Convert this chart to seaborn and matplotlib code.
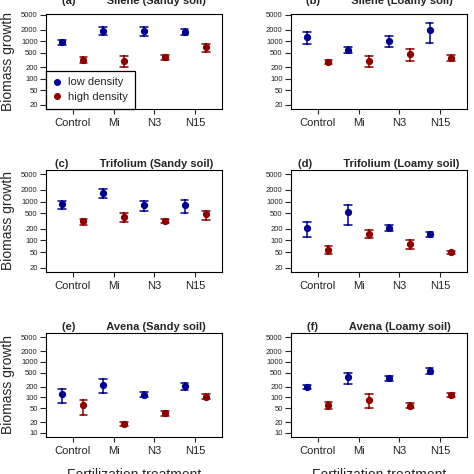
import numpy as np
import pandas as pd
import matplotlib
matplotlib.use('Agg')
import matplotlib.pyplot as plt
from matplotlib.lines import Line2D
from matplotlib.ticker import NullLocator
import seaborn as sns

# Treatments and densities
treatments = ['Control', 'Mi', 'N3', 'N15']
densities = ['low density', 'high density']
colors = {'low density': 'darkblue', 'high density': 'darkred'}

# (lower, mean, upper) per treatment
a_low = [[800, 935, 1100], [1435, 1875, 2344], [1377, 1875, 2440], [1496, 1800, 2074]]
a_high = [[270, 316, 370], [202, 297, 405], [316, 372, 430], [527, 688, 843]]
b_low = [[826, 1297, 1800], [486, 596, 716], [716, 1035, 1377], [916, 1991, 3000]]
b_high = [[247, 280, 310], [210, 303, 405], [303, 457, 634], [297, 357, 430]]
c_low = [[658, 863, 1050], [1250, 1676, 2118], [585, 830, 1030], [509, 830, 1112]]
c_high = [[253, 307, 359], [295, 411, 520], [279, 319, 366], [339, 472, 585]]
d_low = [[120, 208, 301], [253, 530, 815], [171, 208, 253], [123, 144, 165]]
d_high = [[45, 57, 71], [116, 149, 181], [61, 81, 105], [44, 49, 55]]
e_low = [[68, 122, 176], [130, 224, 324], [100, 119, 139], [161, 205, 261]]
e_high = [[33, 61, 84], [15.8, 18, 20.5], [31, 36, 41], [90, 105, 122]]
f_low = [[173, 196, 224], [234, 369, 500], [297, 346, 403], [449, 545, 678]]
f_high = [[48, 61, 75], [51, 84, 122], [52, 59, 68], [100, 117, 136]]

panels = [
    ('(a)', 'Silene (Sandy soil)', a_low, a_high),
    ('(b)', 'Silene (Loamy soil)', b_low, b_high),
    ('(c)', 'Trifolium (Sandy soil)', c_low, c_high),
    ('(d)', 'Trifolium (Loamy soil)', d_low, d_high),
    ('(e)', 'Avena (Sandy soil)', e_low, e_high),
    ('(f)', 'Avena (Loamy soil)', f_low, f_high),
]

yticks_top = [20, 50, 100, 200, 500, 1000, 2000, 5000]
yticks_bottom = [10, 20, 50, 100, 200, 500, 1000, 2000, 5000]

sns.set_style('white')
plt.rcParams['font.family'] = ['Liberation Sans', 'DejaVu Sans']

W = H = 474
fig = plt.figure(figsize=(4.74, 4.74), dpi=100)

# axes boxes in pixels (left, right, top, bottom) and y limits per row
cols = [(46, 222), (291, 467)]
rows = [(13.5, 108.6), (170.2, 271.8), (333.2, 436.8)]
row_ylims = [(16.0, 5480), (15.6, 6400), (7.8, 6410)]
title_pads = [7.0, 2.5, 2.5]

for i, (letter, name, low, high) in enumerate(panels):
    r, c = divmod(i, 2)
    x0, x1 = cols[c]
    y0, y1 = rows[r]
    ax = fig.add_axes([x0 / W, 1 - y1 / H, (x1 - x0) / W, (y1 - y0) / H])
    ax.set_yscale('log')

    # long table: three rows (lower, mean, upper) per group
    recs = []
    for dens, vals in zip(densities, [low, high]):
        for t, trip in zip(treatments, vals):
            for v in trip:
                recs.append({'treatment': t, 'density': dens, 'biomass': v})
    df = pd.DataFrame(recs)

    sns.pointplot(data=df, x='treatment', y='biomass', hue='density',
                  order=treatments, hue_order=densities, palette=colors,
                  estimator='median', errorbar=lambda v: (v.min(), v.max()),
                  dodge=0.52, linestyle='none', markers='o', markersize=4.4,
                  markeredgewidth=0.8, capsize=0.18, err_kws={'linewidth': 1.1},
                  legend=False, ax=ax)

    ticks = yticks_bottom if r == 2 else yticks_top
    ax.set_ylim(*row_ylims[r])
    ax.set_yticks(ticks)
    ax.set_yticklabels([str(t) for t in ticks])
    ax.yaxis.set_minor_locator(NullLocator())
    ax.set_xlim(-0.65, 3.65)

    ax.tick_params(axis='y', labelsize=5.5, labelcolor='#222222', length=4,
                   width=0.8, pad=2, left=True, direction='out')
    ax.tick_params(axis='x', labelsize=8, labelcolor='#222222', length=3.5,
                   width=0.8, pad=3, bottom=True, direction='out')
    for sp in ax.spines.values():
        sp.set_visible(True)
        sp.set_color('black')
        sp.set_linewidth(0.8)

    ax.set_title(f'{letter}          {name}', fontsize=8, fontweight='bold',
                 pad=title_pads[r])

    if c == 0:
        ax.set_ylabel('Biomass growth', fontsize=10)
        ax.yaxis.set_label_coords(-0.175, 0.5)
    else:
        ax.set_ylabel('')
    if r == 2:
        ax.set_xlabel('Fertilization treatment', fontsize=10, labelpad=8.5)
    else:
        ax.set_xlabel('')

    if i == 0:
        handles = [Line2D([], [], linestyle='none', marker='o', markersize=4,
                          color=colors[d], label=d) for d in densities]
        leg = ax.legend(handles=handles, loc='lower left', bbox_to_anchor=(0, 0),
                        borderaxespad=0, fontsize=8, frameon=True, fancybox=False,
                        edgecolor='black', framealpha=1, handlelength=0.8,
                        handletextpad=0.6, labelspacing=0.4, borderpad=0.6)
        leg.get_frame().set_linewidth(0.9)

fig.savefig('out.png', dpi=100)
